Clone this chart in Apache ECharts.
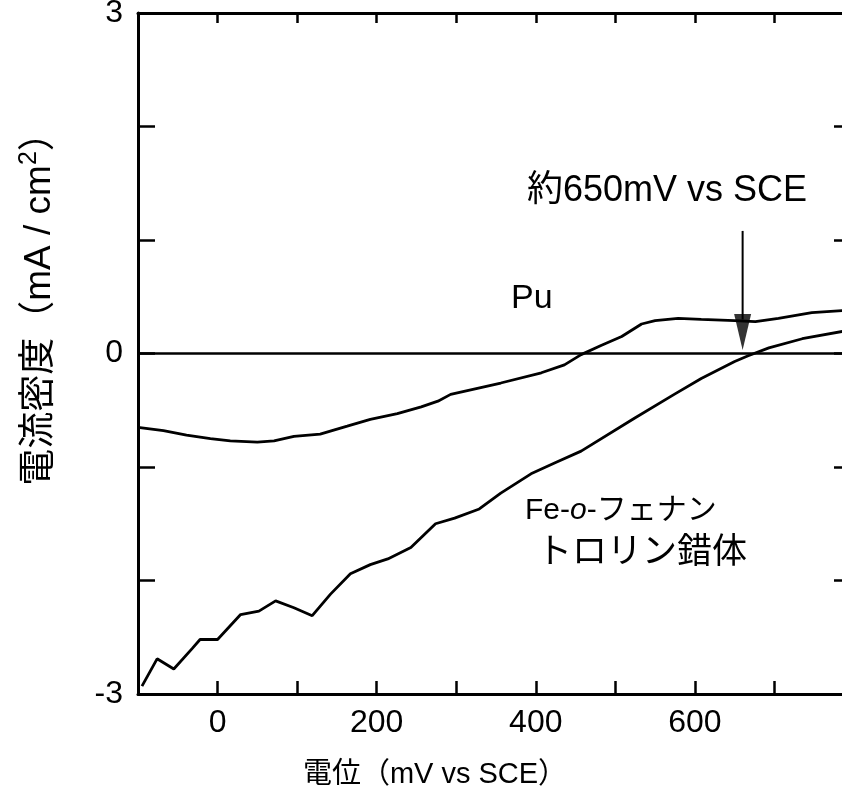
<!DOCTYPE html>
<html>
<head>
<meta charset="utf-8">
<script src="https://cdn.jsdelivr.net/npm/echarts@6/dist/echarts.min.js"></script>
<style>
  html, body { margin: 0; padding: 0; background: #fff; }
  #main { width: 842px; height: 809px; }
</style>
</head>
<body>
<div id="main"></div>
<script>
// Pu electrode (mV vs SCE, mA/cm2)
const puX = [-100, -68, -39, -9, 16, 50, 71, 96, 129, 163, 192, 226, 256, 277, 293, 356, 407, 436, 457, 482, 508, 533, 550, 579, 608, 650, 676, 705, 747, 790];
const puY = [-0.65, -0.68, -0.72, -0.75, -0.77, -0.78, -0.77, -0.73, -0.71, -0.64, -0.58, -0.53, -0.47, -0.42, -0.36, -0.26, -0.17, -0.10, -0.01, 0.07, 0.15, 0.26, 0.29, 0.31, 0.30, 0.29, 0.28, 0.31, 0.36, 0.38];

// Fe-o-phenanthroline complex
const feX = [-95, -76, -55, -32, -22, 0, 29, 52, 73, 96, 119, 142, 167, 192, 214, 243, 274, 298, 329, 356, 394, 425, 457, 524, 574, 608, 650, 667, 693, 735, 790];
const feY = [-2.93, -2.69, -2.78, -2.60, -2.52, -2.52, -2.30, -2.27, -2.18, -2.24, -2.31, -2.12, -1.94, -1.86, -1.81, -1.71, -1.50, -1.45, -1.37, -1.23, -1.06, -0.96, -0.86, -0.57, -0.36, -0.22, -0.07, -0.02, 0.05, 0.13, 0.20];

const zeroLine = [[-100, 0], [800, 0]];
const arrowLine = [[660, 1.08], [660, 0.3]];
const arrowHead = [[660, 0.19]];

const xLabels = [0, 200, 400, 600];
const yLabels = [-3, 0, 3];

const FONT = "'Liberation Sans', Arial, 'Noto Sans CJK JP', sans-serif";

const chart = echarts.init(document.getElementById('main'));

const axisLine = { onZero: false, lineStyle: { color: '#000', width: 3 } };

const option = {
  animation: false,
  backgroundColor: '#fff',
  // right edge of the frame sits just past the window, as in the scan
  grid: { left: 138, right: -12, top: 13, bottom: 115, outerBoundsMode: 'none' },
  xAxis: [
    {
      type: 'value', position: 'bottom', min: -100, max: 800, interval: 100,
      axisLine: axisLine,
      axisTick: { inside: true, length: 13, lineStyle: { color: '#000', width: 2.5 } },
      splitLine: { show: false },
      axisLabel: {
        margin: 13, fontSize: 32, color: '#000', fontFamily: FONT,
        formatter: v => (xLabels.includes(v) ? String(v) : '')
      },
      name: '電位（mV vs SCE）',
      nameLocation: 'middle',
      nameGap: 66,
      nameTextStyle: { fontSize: 29, color: '#000', fontFamily: FONT, padding: [0, 122, 0, 0] }
    },
    {
      type: 'value', position: 'top', min: -100, max: 800, interval: 100,
      axisLine: axisLine,
      axisTick: { inside: true, length: 10, lineStyle: { color: '#000', width: 2.5 } },
      axisLabel: { show: false },
      splitLine: { show: false }
    }
  ],
  yAxis: [
    {
      type: 'value', position: 'left', min: -3, max: 3, interval: 1,
      axisLine: axisLine,
      axisTick: { inside: true, length: 17, lineStyle: { color: '#000', width: 2.5 } },
      splitLine: { show: false },
      axisLabel: {
        margin: 15, fontSize: 32, color: '#000', fontFamily: FONT,
        formatter: v => (yLabels.includes(v) ? String(v) : '')
      }
    },
    {
      type: 'value', position: 'right', min: -3, max: 3, interval: 1,
      axisLine: axisLine,
      axisTick: { inside: true, length: 20, lineStyle: { color: '#000', width: 2.5 } },
      axisLabel: { show: false },
      splitLine: { show: false }
    }
  ],
  series: [
    {
      name: 'zero', type: 'line', data: zeroLine, symbol: 'none',
      lineStyle: { color: '#000', width: 2.5 }
    },
    {
      name: 'Pu', type: 'line', data: puX.map((x, i) => [x, puY[i]]), symbol: 'none',
      lineStyle: { color: '#000', width: 2.8 }
    },
    {
      name: 'Fe-o-phen', type: 'line', data: feX.map((x, i) => [x, feY[i]]), symbol: 'none',
      lineStyle: { color: '#000', width: 2.8 }
    },
    {
      name: 'arrow', type: 'line', data: arrowLine, symbol: 'none',
      lineStyle: { color: '#000', width: 2 }
    },
    {
      name: 'arrowHead', type: 'scatter', data: arrowHead,
      symbol: 'path://M0,0 L10,0 L5,20 Z', symbolSize: [17, 36],
      itemStyle: { color: '#000' }
    }
  ],
  graphic: [
    {
      type: 'text', x: 40, y: 300, rotation: Math.PI / 2,
      style: {
        text: '電流密度（mA / cm{sup|2}）',
        font: '37px ' + FONT, fill: '#000',
        align: 'center', verticalAlign: 'middle',
        rich: { sup: { fontSize: 25, fontFamily: FONT, verticalAlign: 'top', padding: [0, 0, 22, 0] } }
      }
    },
    {
      type: 'text', x: 527, y: 191,
      style: { text: '約650mV vs SCE', font: '36px ' + FONT, fill: '#000', verticalAlign: 'middle' }
    },
    {
      type: 'text', x: 511, y: 299,
      style: { text: 'Pu', font: '34px ' + FONT, fill: '#000', verticalAlign: 'middle' }
    },
    {
      type: 'text', x: 525, y: 511,
      style: {
        text: 'Fe-{it|o}-フェナン', font: '30px ' + FONT, fill: '#000', verticalAlign: 'middle',
        rich: { it: { fontStyle: 'italic', fontSize: 30, fontFamily: FONT } }
      }
    },
    {
      type: 'text', x: 537, y: 553,
      style: { text: 'トロリン錯体', font: '35px ' + FONT, fill: '#000', verticalAlign: 'middle' }
    }
  ]
};

chart.setOption(option);
</script>
</body>
</html>
